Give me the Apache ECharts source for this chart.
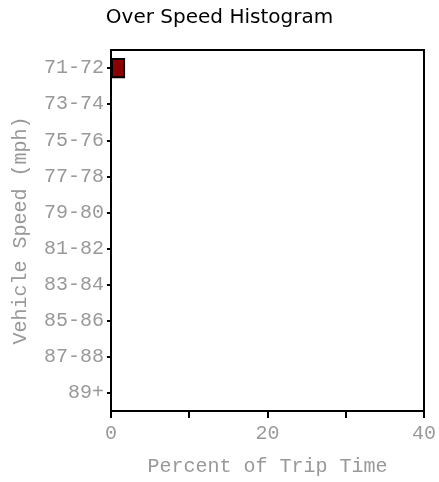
<!DOCTYPE html>
<html>
<head>
<meta charset="utf-8">
<script src="https://cdn.jsdelivr.net/npm/echarts@6/dist/echarts.min.js"></script>
<style>html,body{margin:0;padding:0;background:#fff;}#c{width:439px;height:482px;}</style>
</head>
<body>
<div id="c"></div>
<script>
var categories = ['71-72','73-74','75-76','77-78','79-80','81-82','83-84','85-86','87-88','89+'];
var percentValues = [1.8, 0, 0, 0, 0, 0, 0, 0, 0, 0];
var xTicks = [0, 10, 20, 30, 40];
var xLabelShown = [0, 20, 40];

var mono = 'Liberation Mono';
var chart = echarts.init(document.getElementById('c'), null, {renderer: 'canvas'});
chart.setOption({
  animation: false,
  backgroundColor: '#fff',
  title: {
    text: 'Over Speed Histogram',
    left: 'center',
    top: 3,
    textStyle: {fontFamily: 'DejaVu Sans', fontSize: 20, fontWeight: 'normal', color: '#000'}
  },
  grid: {
    left: 111, right: 14, top: 50, bottom: 68,
    show: true, borderColor: '#000', borderWidth: 2, backgroundColor: 'transparent',
    containLabel: false
  },
  xAxis: {
    type: 'value',
    min: xTicks[0], max: xTicks[xTicks.length - 1], interval: 10,
    name: 'Percent of Trip Time',
    nameLocation: 'middle',
    nameGap: 46,
    nameTextStyle: {fontFamily: mono, fontSize: 20, color: '#999'},
    axisLine: {show: true, lineStyle: {color: '#000', width: 2}},
    axisTick: {show: true, length: 7, lineStyle: {color: '#000', width: 2}},
    axisLabel: {
      margin: 13, fontFamily: mono, fontSize: 20, color: '#999',
      formatter: function (v) { return xLabelShown.indexOf(v) >= 0 ? String(v) : ''; }
    },
    splitLine: {show: false}
  },
  yAxis: {
    type: 'category',
    data: categories,
    inverse: true,
    name: 'Vehicle Speed (mph)',
    nameLocation: 'middle',
    nameGap: 80,
    nameTextStyle: {fontFamily: mono, fontSize: 20, color: '#999'},
    axisLine: {show: true, lineStyle: {color: '#000', width: 2}},
    axisTick: {show: true, length: 4, alignWithLabel: true, lineStyle: {color: '#000', width: 2}},
    axisLabel: {margin: 7, fontFamily: mono, fontSize: 20, color: '#999'},
    splitLine: {show: false}
  },
  series: [{
    type: 'bar',
    data: percentValues,
    barWidth: '56%',
    itemStyle: {color: '#8B0000', borderColor: '#000', borderWidth: 2}
  }]
});
</script>
</body>
</html>
